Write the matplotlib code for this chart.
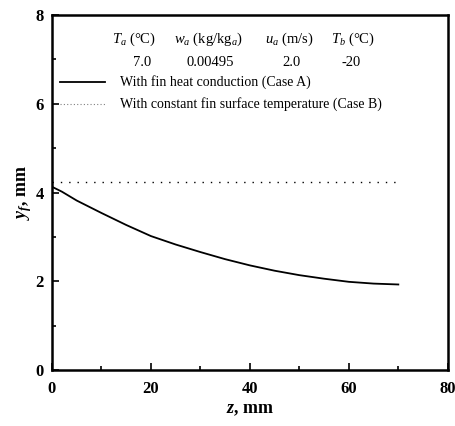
import matplotlib.pyplot as plt
from matplotlib.ticker import MultipleLocator

# Case A: with fin heat conduction
z_a = [0, 2, 5, 10, 15, 20, 25, 30, 35, 40, 45, 50, 55, 60, 65, 70]
yf_a = [4.13, 4.02, 3.82, 3.54, 3.27, 3.02, 2.83, 2.66, 2.50, 2.36, 2.24, 2.14, 2.06, 1.99, 1.95, 1.93]

# Case B: constant fin surface temperature
z_b = [0, 70]
yf_b = [4.23, 4.23]

headers = [r"$T_a$ (°C)", r"$w_a$ (kg/kg$_a$)", r"$u_a$ (m/s)", r"$T_b$ (°C)"]
values = ["7.0", "0.00495", "2.0", "-20"]

plt.rcParams['font.family'] = ['Liberation Serif', 'DejaVu Serif']
plt.rcParams['mathtext.fontset'] = 'custom'
plt.rcParams['mathtext.it'] = 'Liberation Serif:italic'
plt.rcParams['mathtext.rm'] = 'Liberation Serif'
plt.rcParams['mathtext.bf'] = 'Liberation Serif:bold'
plt.rcParams['mathtext.bfit'] = 'Liberation Serif:bold:italic'

fig = plt.figure(figsize=(4.56, 4.26), dpi=100)
ax = fig.add_axes([0.114, 0.131, 0.868, 0.834])

ax.plot(z_a, yf_a, color='black', lw=1.3)
ax.plot(z_b, yf_b, color='black', lw=1.0, linestyle=(0, (1, 5)))

ax.set_xlim(0, 80)
ax.set_ylim(0, 8)
ax.xaxis.set_major_locator(MultipleLocator(20))
ax.xaxis.set_minor_locator(MultipleLocator(10))
ax.yaxis.set_major_locator(MultipleLocator(2))
ax.yaxis.set_minor_locator(MultipleLocator(1))
ax.tick_params(which='both', direction='in', labelsize=12, width=1.2)
ax.tick_params(which='major', length=5)
ax.tick_params(which='minor', length=3)
ax.tick_params(axis='x', pad=8)
ax.tick_params(axis='y', pad=6)
for lbl in ax.get_xticklabels() + ax.get_yticklabels():
    lbl.set_fontweight('bold')
for s in ax.spines.values():
    s.set_linewidth(1.8)

ax.set_xlabel(r"$\mathbfit{z}$, mm", fontsize=13, fontweight='bold', labelpad=3)
ax.set_ylabel(r"$\mathbfit{y}_{\mathbfit{f}}$, mm", fontsize=13, fontweight='bold', labelpad=1)

# parameter table
hx = [16.6, 31.6, 48.0, 60.8]
vx = [18.2, 31.9, 48.5, 60.4]
for xh, xv, h, v in zip(hx, vx, headers, values):
    ax.text(xh, 7.45, h, ha='center', va='center', fontsize=10.5)
    ax.text(xv, 6.92, v, ha='center', va='center', fontsize=10.5)

# legend
ax.plot([1.7, 10.8], [6.48, 6.48], color='black', lw=1.3)
ax.plot([1.7, 10.8], [6.0, 6.0], color='gray', lw=0.8, linestyle=(0, (1, 2)))
ax.text(13.8, 6.48, "With fin heat conduction (Case A)", va='center', fontsize=10)
ax.text(13.8, 6.0, "With constant fin surface temperature (Case B)", va='center', fontsize=10)

fig.savefig("out.png", dpi=100)
